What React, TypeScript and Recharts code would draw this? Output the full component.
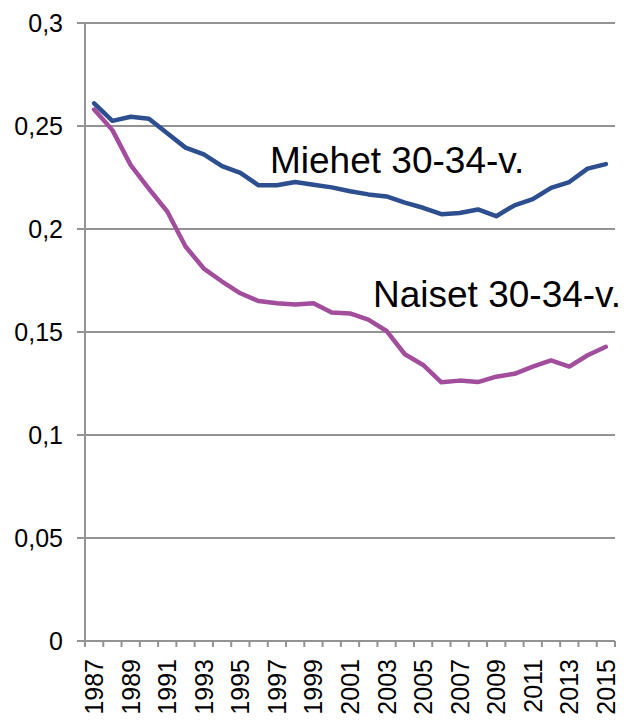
import { LineChart, Line, XAxis, YAxis, CartesianGrid } from "recharts"

const years = [
  "1987", "1988", "1989", "1990", "1991", "1992", "1993", "1994", "1995", "1996",
  "1997", "1998", "1999", "2000", "2001", "2002", "2003", "2004", "2005", "2006",
  "2007", "2008", "2009", "2010", "2011", "2012", "2013", "2014", "2015",
]

const miehet = [
  0.261, 0.2525, 0.2545, 0.2535, 0.2465, 0.2395, 0.2362, 0.2305, 0.2272, 0.2212,
  0.2212, 0.2228, 0.2215, 0.2202, 0.2183, 0.2168, 0.2158, 0.2128, 0.2103, 0.2072,
  0.2078, 0.2095, 0.2062, 0.2115, 0.2145, 0.22, 0.2228, 0.2293, 0.2315,
]

const naiset = [
  0.258, 0.248, 0.231, 0.2195, 0.2085, 0.1915, 0.1808, 0.1745, 0.1688, 0.165,
  0.164, 0.1633, 0.164, 0.1595, 0.159, 0.156, 0.1505, 0.1392, 0.134, 0.1256,
  0.1264, 0.1257, 0.1283, 0.1297, 0.1332, 0.1362, 0.1332, 0.1387, 0.1428,
]

const yTicks = [0, 0.05, 0.1, 0.15, 0.2, 0.25, 0.3]

const data = years.map((year, i) => ({ year, miehet: miehet[i], naiset: naiset[i] }))

const FONT = '"Liberation Sans", Arial, sans-serif'
const GRID = "#939393"

// category-boundary tick marks like the spreadsheet original, label on every other year
function YearTick(props: any) {
  const { x, y, payload, index } = props
  const half = payload?.offset ?? 9
  const axisY = y - 18
  const i = index ?? payload?.index ?? 0
  return (
    <g>
      <line x1={x - half} x2={x - half} y1={axisY} y2={axisY + 6} stroke={GRID} strokeWidth={2} />
      {i === years.length - 1 && (
        <line x1={x + half} x2={x + half} y1={axisY} y2={axisY + 6} stroke={GRID} strokeWidth={2} />
      )}
      {i % 2 === 0 && (
        <text
          x={x}
          y={y}
          dy="0.36em"
          textAnchor="end"
          transform={`rotate(-90 ${x} ${y})`}
          fontSize={25}
          fontFamily={FONT}
          fill="#000"
        >
          {payload.value}
        </text>
      )}
    </g>
  )
}

const labelStyle: React.CSSProperties = {
  position: "absolute",
  fontFamily: FONT,
  fontSize: 37,
  lineHeight: "normal",
  color: "#000",
  whiteSpace: "nowrap",
}

export default function App() {
  return (
    <div style={{ position: "absolute", left: 0, top: 0, width: 625, height: 720, background: "#fff", overflow: "hidden" }}>
      <LineChart width={625} height={720} data={data} margin={{ top: 23, right: 10, left: 0, bottom: 0 }}>
        <CartesianGrid vertical={false} stroke={GRID} strokeWidth={2} />
        <XAxis
          dataKey="year"
          scale="band"
          interval={0}
          height={79}
          tickLine={false}
          tickSize={6}
          tickMargin={12}
          axisLine={{ stroke: GRID, strokeWidth: 2 }}
          tick={<YearTick />}
        />
        <YAxis
          domain={[0, 0.3]}
          ticks={yTicks}
          width={85}
          tickSize={8}
          tickMargin={14}
          tickFormatter={(v: number) => String(v).replace(".", ",")}
          tick={{ fontSize: 25, fontFamily: FONT, fill: "#000" }}
          tickLine={{ stroke: GRID, strokeWidth: 2 }}
          axisLine={{ stroke: GRID, strokeWidth: 2 }}
        />
        <Line
          type="linear"
          dataKey="miehet"
          stroke="#2E4F8F"
          strokeWidth={4.5}
          strokeLinejoin="round"
          strokeLinecap="round"
          dot={false}
          isAnimationActive={false}
        />
        <Line
          type="linear"
          dataKey="naiset"
          stroke="#A24E9C"
          strokeWidth={4.5}
          strokeLinejoin="round"
          strokeLinecap="round"
          dot={false}
          isAnimationActive={false}
        />
      </LineChart>
      <div style={{ ...labelStyle, left: 270, top: 140 }}>Miehet 30-34-v.</div>
      <div style={{ ...labelStyle, left: 373, top: 274 }}>Naiset 30-34-v.</div>
    </div>
  )
}
